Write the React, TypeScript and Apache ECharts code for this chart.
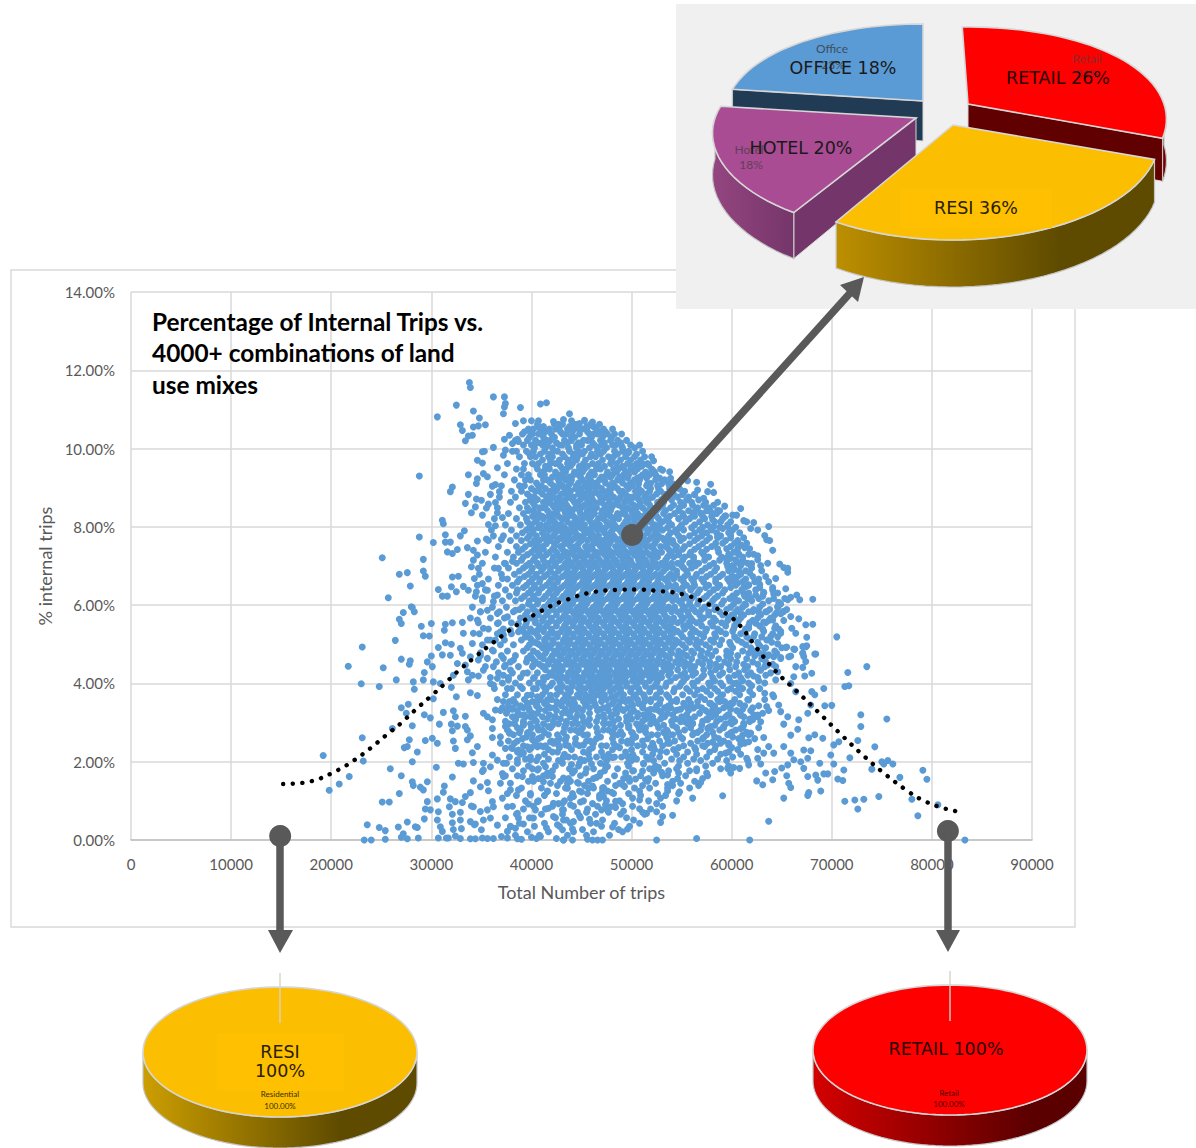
import React, { useEffect, useRef } from "react";
import * as echarts from "echarts";

// Axis ticks
const tripTicks = { min: 0, max: 90000, step: 10000 };
const shareTicks = { min: 0, max: 14, step: 2 };

// Land use mixes: scattered points as pairs of (trips / 100, share x 100)
const sparsePoints = [
338,1169,339,1156,362,1132,373,1132,374,1115,373,1106,372,1089,325,1111,342,1096,306,1081,389,1105,409,1114,415,1117,348,1078,354,1061,329,1061,331,1046,342,1055,347,1058,337,1032,341,1034,334,1020,384,1064,392,1071,400,1071,407,1071,407,1055,399,1042,412,1043,422,1069,427,1062,432,1074,438,1089,440,1071,448,1064,453,1072,461,1068,456,1055,442,1050,466,1037,472,1038,373,1024,378,1034,386,1024,381,1013,387,1018,362,1003,353,993,351,992,385,993,372,983,374,996,
346,970,351,963,366,951,337,933,352,936,356,928,346,923,345,911,288,930,321,902,319,890,364,908,361,904,368,890,359,883,337,883,345,871,350,868,334,860,364,862,357,858,355,848,344,851,340,836,351,830,366,836,371,824,311,817,312,808,357,806,364,803,333,790,329,777,314,780,288,774,302,760,314,761,319,761,346,764,355,769,362,777,370,768,316,736,321,732,326,742,336,747,342,740,346,728,342,715,251,721,292,717,268,679,276,683,292,687,294,674,340,698,347,694,321,672,327,674,279,649,307,640,320,647,332,648,325,634,337,638,343,668,351,655,345,634,356,638,257,619,311,623,316,623,280,596,367,694,374,706,381,712,371,668,366,626,351,619,362,609,
281,594,283,583,272,581,268,564,270,553,290,546,300,553,314,551,313,536,321,555,331,556,292,522,298,521,264,510,231,493,314,504,307,492,320,500,300,470,311,473,319,472,270,462,279,458,278,449,296,455,301,443,217,444,252,440,293,428,265,409,230,399,248,392,282,404,292,409,302,404,309,400,283,385,320,390,325,366,339,376,346,369,302,361,277,347,270,338,275,324,312,326,322,330,293,320,299,312,334,316,324,315,281,292,261,285,308,296,320,296,334,290,326,291,321,279,336,281,231,261,278,256,301,260,294,254,306,247,339,266,322,253,336,256,276,239,273,236,324,234,286,225,346,239,341,223,192,216,232,202,281,200,259,182,305,186,327,196,332,194,342,198,270,164,218,162,321,161,208,143,198,127,281,149,282,139,289,135,292,128,296,149,313,138,312,122,268,119,251,97,258,97,306,105,296,98,294,79,307,72,299,77,319,105,331,96,324,98,318,85,340,87,329,71,321,66,293,54,306,51,276,46,236,39,248,32,254,24,267,33,284,34,286,32,309,34,311,22,321,44,329,51,322,27,330,29,339,47,344,41,352,51,
233,0,240,0,254,2,270,7,272,16,276,3,287,5,307,5,315,5,317,5,324,10,329,4,339,3,344,3,351,5,356,4,362,4,370,9,376,5,386,3,390,2,400,7,405,4,409,9,415,31,425,4,432,0,
342,151,356,147,349,136,339,121,357,126,371,107,334,111,342,85,349,73,356,77,361,98,362,85,376,85,386,68,387,56,399,115,397,92,406,98,404,77,402,56,416,124,422,94,417,81,431,94,431,77,422,60,432,51,426,39,431,26,359,56,366,38,379,34,384,30,392,41,376,22,343,39,350,26,
352,324,356,315,364,332,361,307,361,285,374,290,381,336,386,319,384,307,376,330,378,273,388,274,396,273,361,262,369,264,369,247,374,234,381,234,387,230,392,222,396,238,401,256,406,238,386,205,372,196,361,217,366,204,352,196,351,175,359,187,371,170,372,162,352,179,391,162,401,162,406,179,387,128,379,128,369,145,412,149,421,162,432,158,436,132,399,205,414,187,406,290,417,290,424,315,434,294,434,255,432,213,412,238,419,251,427,243,392,298,399,315,396,349,406,341,416,358,426,349,432,358,
362,443,366,413,374,447,379,434,372,421,377,409,359,400,376,387,362,396,352,434,347,419,337,409,341,421,356,464,361,485,356,511,364,511,372,524,379,536,387,553,387,532,392,532,406,536,399,515,414,515,422,528,406,502,416,494,426,485,429,468,421,460,409,468,396,464,382,460,372,464,402,447,412,443,426,443,416,417,402,413,392,426,389,392,402,387,412,392,426,387,419,370,406,366,396,370,349,583,346,562,356,587,366,579,376,570,384,587,366,553,369,532,352,541,342,528,332,528,341,502,329,490,331,477,339,468,349,478,334,447,326,451,347,460,336,430,322,421,
833,0,806,90,786,62,780,104,747,111,732,104,723,102,713,99,726,79,795,155,791,178,768,160,761,194,756,203,750,200,752,194,740,181,743,238,718,210,726,254,729,290,729,320,755,309,735,443,716,428,713,392,717,394,692,387,700,344,693,343,702,243,707,251,699,217,702,194,712,179,706,156,711,152,696,169,692,169,688,196,689,125,677,121,676,114,652,107,637,48,618,0,591,113,569,147,565,177,565,4,548,123,541,63,531,60,529,45,525,72,515,68,508,102,508,80,496,28,481,33,525,0,471,0,466,0,461,0,456,2,441,0,432,0,441,28,442,47,448,62,455,71,458,53,465,43,470,77,492,74,484,83,479,85,474,90,449,97,439,90,432,77,480,122,471,124,472,111,484,99,442,111,450,123,457,132,461,138,472,134,491,141,493,137,536,166,536,142,514,154,504,156,497,158,502,177,511,176,522,183,527,186,530,173,512,194,517,207,502,213,496,213,481,211,476,188,472,213,460,194,440,193,432,211,465,160,454,171,449,206,446,147,436,145,596,183,602,185,608,183,594,222,609,245,617,251,572,262,573,239,581,250,589,247,597,243,615,209,617,192,626,209,629,194,634,171,625,151,631,141,641,154,643,175,655,164,657,145,659,134,650,184,656,192,662,205,669,200,676,209,672,183,676,162,684,166,686,153,632,262,637,239,632,222,642,222,652,239,659,222,672,230,679,228,659,268,677,261,683,269,691,260,652,296,666,283,667,307,676,324,679,345,656,315,649,328,635,341,626,319,629,302,621,307,612,298,609,285,619,273,611,268,599,302,599,273,592,290,579,290,576,285,562,273,561,298,549,302,609,319,
683,371,680,379,664,379,659,400,644,409,642,366,647,345,633,375,617,358,609,388,622,419,619,396,664,443,671,441,680,426,673,419,662,417,683,475,674,456,671,477,674,494,663,487,654,492,646,501,657,468,649,464,642,468,632,473,628,496,622,481,636,447,646,430,629,434,602,400,596,383,579,400,566,383,569,366,589,366,579,349,599,349,596,319,582,328,576,307,556,337,546,332,562,337,536,341,529,328,519,311,509,294,501,273,496,247,486,239,536,277,536,247,522,239,529,226,462,247,452,243,444,245,434,243,449,281,456,298,472,298,481,273,489,277,504,264,507,290,
490,1007,495,990,497,990,520,979,522,969,492,951,502,948,512,960,517,958,531,945,538,941,539,924,537,910,524,933,521,945,509,928,519,911,565,914,579,909,556,918,566,894,576,890,582,888,563,882,572,873,586,863,593,853,609,847,601,830,605,830,586,842,579,839,569,835,561,835,594,828,612,816,615,813,622,811,637,801,619,796,626,792,633,778,635,767,638,765,641,740,626,726,613,747,607,731,636,707,648,705,652,696,656,694,656,684,620,706,612,710,606,709,618,682,644,668,628,653,654,642,632,633,642,629,681,615,668,614,665,626,659,620,656,614,647,607,646,596,652,584,649,578,645,581,634,583,627,582,621,584,659,571,667,565,641,562,674,550,681,551,660,541,664,528,675,518,705,519,655,493,662,488,671,494,675,496,684,475,659,470,671,477,672,469,632,557,624,554,617,541,622,520,633,489,643,541,649,528,639,520,649,466,637,473,
596,801,599,779,581,818,591,796,582,801,571,784,586,775,609,754,599,720,594,720,596,699,602,690,609,682,601,673,606,656,614,647,617,652,624,626,619,618,612,630,614,601,609,579,602,571,
];

// Dense body of the cloud: share of internal trips (%) and the trips / 100 of the mixes at that share
const denseRows: [number, number[]][] = [
[10.62,[406,423,431,443,446,459,468]],
[10.5,[397,402,418,424,436,447,451,465,472,481]],
[10.37,[391,401,407,420,431,435,448,458,462,476,483,490]],
[10.21,[384,396,404,415,419,433,440,452,456,469,479,486,495]],
[10.09,[392,400,411,416,428,431,445,450,463,470,481,484,499,508]],
[9.93,[381,395,402,413,422,426,438,447,453,466,472,483,491,497,511]],
[9.79,[388,399,404,417,421,433,442,446,459,464,477,482,494,503,513]],
[9.62,[376,393,401,407,419,424,436,441,452,461,467,479,485,496,505,516]],
[9.48,[385,392,406,414,418,431,435,448,453,465,469,482,487,499,506,520,529]],
[9.33,[373,390,397,409,413,425,429,442,447,458,463,475,481,492,497,511,518]],
[9.2,[383,394,399,412,416,427,434,440,451,459,468,473,486,490,503,508,524,533]],
[9.05,[370,388,393,407,410,422,431,437,445,453,461,466,478,483,495,501,515,526,538]],
[8.91,[380,390,404,408,419,424,435,439,449,456,464,472,476,488,491,504,510,518,529,541,553]],
[8.76,[368,384,399,403,415,422,428,438,442,453,458,469,474,482,489,498,502,513,521,533,546,557]],
[8.63,[379,394,401,412,416,426,431,443,446,456,463,468,478,485,493,499,509,515,526,532,549,560,574]],
[8.49,[366,388,396,408,411,423,428,437,444,450,460,465,475,480,491,496,505,511,520,528,539,548,566,577]],
[8.34,[377,392,403,407,419,424,434,438,449,455,463,470,476,486,490,501,506,516,521,532,543,551,570,585]],
[8.21,[363,385,395,406,412,421,430,433,445,451,457,467,472,482,487,497,503,509,519,527,535,547,558,573,591]],
[8.05,[374,389,400,409,415,426,430,440,447,453,462,468,478,483,492,499,507,512,523,528,540,550,563,576,596]],
[7.92,[360,380,395,402,413,418,428,436,441,452,456,466,471,481,488,494,504,509,518,526,531,544,552,568,580,601]],
[7.77,[372,385,398,405,416,422,433,437,447,452,462,467,477,482,492,497,507,512,522,527,537,547,558,570,589]],
[7.65,[357,379,390,403,408,419,426,435,440,450,456,465,471,480,486,495,501,510,516,525,533,541,549,563,575,594,606]],
[7.5,[367,385,394,406,411,423,429,439,444,454,459,469,474,484,489,499,504,514,519,529,534,545,553,567,580,599]],
[7.35,[354,376,387,400,407,418,425,435,440,450,455,465,470,480,485,495,500,510,515,525,530,540,547,559,570,587,602]],
[7.23,[364,382,392,404,411,422,431,436,446,451,461,466,476,481,491,496,506,511,521,526,536,542,553,562,577,590,611]],
[7.07,[351,373,385,398,406,417,424,434,439,449,455,464,470,479,485,494,500,509,515,524,530,540,546,558,567,582,595,616]],
[6.95,[363,377,392,401,412,419,430,436,445,451,460,466,475,481,490,496,505,511,520,526,535,541,552,560,574,585,602,620]],
[6.79,[348,370,383,397,405,416,423,434,439,449,454,464,469,479,484,494,499,509,514,524,529,539,545,556,565,579,591,609]],
[6.67,[357,376,388,401,409,420,427,437,443,452,458,467,473,482,488,497,503,512,518,527,533,542,549,560,570,584,596,614,627]],
[6.51,[346,367,381,395,403,415,422,433,439,448,454,463,469,478,484,493,499,508,514,523,529,538,544,555,563,577,588,604,617]],
[6.39,[354,374,386,400,408,419,427,437,442,452,457,467,472,482,487,497,502,512,517,527,532,542,548,559,568,582,593,610,624,641]],
[6.23,[344,363,378,393,402,414,422,432,438,448,453,463,468,478,483,493,498,508,513,523,528,538,544,554,562,575,586,601,613,631]],
[6.11,[351,371,384,398,407,419,426,436,442,451,457,466,472,481,487,496,502,511,517,526,532,541,547,558,567,581,592,607,620,637]],
[5.95,[341,361,375,391,401,413,421,432,438,447,453,462,468,477,483,492,498,507,513,522,528,537,543,553,560,573,584,599,611,628,646]],
[5.83,[349,368,382,396,405,417,425,435,441,450,456,465,471,480,486,495,501,510,516,525,531,540,546,556,564,577,588,604,617,635,651]],
[5.67,[339,359,373,389,399,412,420,431,437,446,452,461,467,476,482,491,497,506,512,521,527,536,542,552,559,572,582,597,609,626,639]],
[5.55,[347,367,380,395,404,417,425,435,441,450,456,465,471,480,486,495,501,510,516,525,531,540,546,557,565,579,590,605,618,634]],
[5.39,[357,372,389,399,412,420,431,437,446,452,461,467,476,482,491,497,506,512,521,527,536,542,553,561,575,586,602,614,631,647]],
[5.27,[348,366,380,396,405,418,426,436,442,451,457,466,472,481,487,496,502,511,517,526,532,541,549,559,568,583,594,609,623,641]],
[5.11,[359,373,390,400,413,421,432,438,447,453,462,468,477,483,492,498,507,513,522,528,537,544,556,565,579,590,606,619,635]],
[4.99,[351,369,382,398,408,420,427,437,443,452,458,467,473,482,488,497,503,512,518,527,533,543,551,564,574,588,599,614,627]],
[4.83,[362,376,392,402,415,423,433,439,448,454,463,469,478,484,493,499,508,514,523,529,539,547,560,570,584,595,611,623,643]],
[4.71,[349,370,384,399,408,421,428,438,444,453,459,468,474,483,489,498,504,513,519,528,534,546,555,569,580,595,606,623,636]],
[4.55,[365,379,395,404,417,425,435,441,450,456,465,471,480,486,495,501,510,516,525,532,544,553,567,578,593,605,621,634]],
[4.43,[354,373,387,401,411,423,430,440,446,455,461,470,476,485,491,500,506,515,521,532,540,553,563,578,589,604,616,633,644]],
[4.27,[367,381,396,406,419,427,437,443,453,458,468,473,483,488,498,503,513,519,530,539,553,564,579,591,607,619,639]],
[4.15,[359,377,389,403,412,425,432,442,448,458,463,473,478,488,494,504,510,521,530,544,555,570,581,597,609,626]],
[4.01,[371,384,398,407,421,429,440,447,457,463,473,479,489,495,506,513,525,535,550,561,577,589,605,617,633]],
[3.87,[363,380,391,405,415,428,436,447,454,465,472,483,489,500,507,519,528,543,555,571,583,599,611,628]],
[3.71,[374,386,400,411,425,434,446,454,465,473,485,492,504,512,525,535,551,563,579,591,608,621,641]],
[3.59,[366,382,393,409,420,433,442,454,462,475,484,497,506,519,529,545,557,573,586,603,616,633]],
[3.43,[377,389,405,416,430,440,454,464,477,487,501,511,525,537,553,566,583,596,613,627]],
[3.31,[369,386,398,414,425,440,451,466,477,492,502,516,527,544,557,574,587,605,619,637]],
[3.15,[381,394,411,423,439,451,467,479,495,506,521,533,550,563,580,594,612,626]],
[3.03,[374,392,405,422,435,452,465,482,495,511,523,540,553,571,585,603,618]],
[2.87,[386,400,419,433,451,465,483,497,514,527,545,559,577,592,611,627]],
[2.75,[378,397,413,432,447,466,481,500,514,532,547,566,581,600,615]],
[2.59,[391,407,428,444,465,481,501,516,536,551,571,587,607,623]],
[2.47,[383,404,422,444,461,482,500,521,538,559,576,597,613]],
[2.31,[398,417,440,458,481,500,523,542,564,583,606,626]],
[2.19,[389,413,433,457,477,501,521,545,565,589,609]],
[2.03,[405,427,453,475,500,522,548,569,595,616]],
[1.89,[397,424,447,474,497,524,547,574,597]],
[1.71,[416,441,469,494,522,547,575,599]],
[1.57,[407,437,462,492,517,546,571]],
[1.39,[426,453,484,511,541,567]],
[1.25,[416,448,476,508,536]],
[1.07,[439,468,501,529,561]],
[0.93,[427,461,491,525]],
[0.71,[446,477,511]],
[0.51,[435,471,502]],
[0.27,[451,487]],
];

// Second pass over the solid core, mixes lying between the rows above
const coreRows: [number, number[]][] = [
[9.27,[421,432,438,449,457,470,479,488]],
[9.12,[405,419,428,439,447,456,464,474,481,491,499]],
[8.98,[400,414,426,433,444,450,458,470,480,486,497,507,519]],
[8.84,[396,411,418,430,435,447,452,461,467,479,494,507,515,525]],
[8.7,[399,406,419,425,434,441,449,461,471,478,487,495,507,517,530]],
[8.56,[403,414,421,430,435,447,453,458,473,482,487,502,508,518,531,542]],
[8.42,[397,402,416,426,433,441,448,456,461,471,479,494,500,514,525,534,547]],
[8.27,[401,411,417,427,437,442,454,460,473,479,485,495,511,517,525,538,552]],
[8.13,[396,404,418,423,436,443,449,459,465,475,481,494,503,515,519,531,537,554]],
[7.98,[398,407,421,425,433,444,449,460,465,474,485,490,501,514,521,536,548,560]],
[7.85,[391,401,411,424,431,439,444,457,460,473,479,490,496,505,516,524,539,545,563]],
[7.71,[396,412,416,428,430,443,448,459,464,475,484,490,503,505,519,531,536,552,566]],
[7.57,[399,404,415,423,433,437,447,462,467,473,478,491,494,508,511,523,536,542,558,571]],
[7.43,[391,403,412,421,431,445,447,458,461,475,477,490,492,505,508,522,537,544,551,563,575]],
[7.29,[396,408,415,426,432,442,448,456,463,473,478,488,493,503,508,518,523,538,547,558,572]],
[7.15,[390,402,412,421,428,437,444,453,460,468,475,484,491,499,507,514,521,534,551,562,573,588]],
[7.01,[395,407,413,424,433,441,447,457,462,472,477,487,492,502,507,517,522,532,537,550,564,578]],
[6.87,[388,400,410,419,427,436,443,452,458,467,473,482,488,497,503,512,518,532,545,555,570,583]],
[6.73,[393,404,413,424,431,442,446,456,461,471,476,486,491,501,506,516,521,537,543,553,564,575,588]],
[6.59,[386,398,408,418,426,436,442,451,457,466,472,481,487,496,502,511,517,526,536,552,562,572,584,598]],
[6.45,[392,403,411,423,430,441,445,456,460,470,475,485,490,500,505,515,520,530,535,551,561,574,586]],
[6.31,[385,397,407,417,425,435,441,451,456,465,471,480,486,495,501,510,516,525,534,551,566,578,591]],
[6.17,[390,403,412,422,430,440,446,455,461,470,476,485,491,500,506,515,521,530,535,552,560,572,583,598]],
[6.03,[397,406,417,425,434,441,450,455,465,470,480,485,495,500,510,515,525,531,550,558,566,578,590]],
[5.89,[388,402,411,421,429,438,445,454,460,469,475,484,490,499,505,514,520,529,534,551,562,570,583,595]],
[5.75,[394,407,415,425,433,443,448,458,463,473,478,488,493,503,508,518,523,533,549,557,568,577,591]],
[5.61,[404,411,420,428,439,444,453,459,468,474,483,489,498,504,513,519,528,534,550,561,569,584,596]],
[5.47,[394,408,415,425,433,442,449,458,464,473,479,488,494,503,509,518,524,533,538,552,558,570,581,594]],
[5.33,[401,412,420,430,437,447,453,463,468,478,483,493,498,508,513,523,528,538,546,564,574,589]],
[5.19,[394,407,416,426,434,442,449,458,464,473,479,488,494,503,509,518,524,533,539,551,560,572,584]],
[5.05,[403,414,422,432,438,447,454,463,469,478,484,493,499,508,514,523,529,538,547,558,569,582]],
[4.91,[396,411,418,429,435,444,450,459,465,474,480,489,495,504,510,519,525,534,541,554,566,578]],
[4.77,[406,414,425,432,441,447,456,462,471,477,486,492,501,507,516,522,531,540,551,562,576]],
[4.63,[401,412,419,430,436,445,451,460,466,475,481,490,496,505,511,520,527,538,549,560,573]],
[4.49,[408,417,427,435,443,450,459,465,474,480,489,495,504,510,519,526,537,547,558,571]],
[4.35,[414,423,431,440,447,456,463,471,478,486,493,501,508,516,524,535,546,559,572]],
[4.21,[421,429,437,445,453,461,468,477,484,493,500,509,516,525,537,549,561]],
[4.07,[428,436,444,452,460,468,476,484,492,501,509,518,526,539,552]],
[3.93,[431,441,449,459,468,477,486,495,504,514,523,534,548]],
[3.79,[439,449,460,469,479,489,499,508,518,529,542]],
[3.65,[437,448,459,470,480,491,502,513,524,537]],
];

// Top of the cloud and its right flank, clumped mixes around the core
const haloRows: [number, number[]][] = [
[10.56,[412,428,438,455,462]],
[10.43,[393,409,414,429,441,456,469,474]],
[10.29,[398,412,423,440,443,460,471,480]],
[10.15,[406,410,425,436,447,461,473,489]],
[10.02,[403,414,421,437,445,458,466,475,491,503]],
[9.86,[398,409,418,431,442,451,460,469,486,495,505]],
[9.71,[411,419,428,437,445,454,471,480,489,499,509]],
[9.55,[405,414,429,439,448,456,465,473,491,501,510]],
[9.4,[411,424,434,443,451,460,476,485,494,503,514,523]],
[9.25,[496,506,515,528]],
[9.1,[507,516,530,541]],
[8.97,[527,538,548]],
[8.83,[533,542,551,563]],
[8.69,[540,555,567]],
[8.55,[552,561,572,582]],
[8.41,[557,564,575,588]],
[8.27,[563,571,580,593]],
[8.13,[568,583,589,599]],
[7.99,[571,579,588,604]],
[7.85,[575,585,597,608]],
[7.72,[578,586,599,612]],
[7.58,[584,591,603,615]],
[7.44,[586,595,606,618]],
[7.3,[597,607,617,622]],
[7.16,[596,604,611,626]],
[7.01,[601,609,619,629]],
[6.88,[597,607,614,630]],
[6.73,[600,606,621,634]],
[6.6,[603,611,623,637]],
[6.45,[599,612,628,641]],
[6.31,[605,617,632,646]],
[6.17,[603,616,627,642,653]],
[6.03,[602,613,631,649]],
[5.89,[606,622,638,655]],
[5.75,[600,612,629,643]],
[5.61,[607,621,637,652]],
[5.47,[603,617,628,644]],
[5.33,[601,613,632,649]],
[5.19,[603,615,630,646]],
[5.05,[598,610,626,640]],
[4.91,[601,619,634,650]],
[4.77,[599,617,628,645]],
[4.63,[587,599,615,630]],
[4.49,[584,597,612,626,641]],
[4.35,[584,598,613,628]],
[4.21,[572,588,603,616,634]],
[4.07,[412,566,583,598,611,627]],
[3.94,[419,562,578,591,607,620]],
[3.8,[414,429,558,575,586,604,618]],
];

// Lower part of the cloud, loose clusters running down to the axis
const lowerRows: [number, number[]][] = [
[3.54,[372,378,401,406,425,431,452,457,470,489,494,513,519,540,545,566,588,593]],
[3.49,[384,396,413,437,443,463,481,500,507,528,552,559,578,601,608]],
[3.38,[371,392,397,419,423,447,458,472,496,511,533,539,561,570,592,621]],
[3.34,[381,408,434,445,469,484,490,519,523,549,581,599,611]],
[3.24,[375,401,406,431,436,458,485,499,506,530,536,568,577,608,631]],
[3.2,[389,393,418,446,472,481,512,518,541,555,584,597,622]],
[3.09,[384,403,416,429,444,458,473,487,500,514,529,544,558,575,589,601,618]],
[2.97,[378,383,399,412,427,441,446,473,478,505,519,525,556,561,594,600]],
[2.93,[392,421,434,458,489,497,532,541,570,583,612]],
[2.81,[376,389,407,411,439,444,472,477,508,513,535,553,569,588,604]],
[2.69,[382,401,417,426,452,456,486,491,520,526,541,561,575,596,617]],
[2.63,[395,410,435,469,504,535,549,583,601]],
[2.53,[377,386,420,425,455,459,490,496,511,528,543,566,592,611]],
[2.41,[392,409,414,437,448,470,475,506,512,531,552,571,584]],
[2.36,[380,400,428,461,488,519,547,563,600]],
[2.25,[386,391,421,426,452,470,494,511,535,556,578,597]],
[2.12,[378,399,407,437,443,465,483,490,515,528,552,575,601]],
[2.07,[394,417,458,476,505,540,562,586]],
[1.96,[375,386,412,431,448,469,496,512,533,556,581]],
[1.82,[381,401,407,438,455,462,486,518,526,545,565,589]],
[1.77,[392,421,443,473,501,537,558]],
[1.64,[374,386,412,416,449,468,483,509,531,554,576]],
[1.5,[397,402,429,439,457,476,498,516,541,563]],
[1.45,[379,419,447,488,524,549]],
[1.33,[390,410,434,462,471,503,518,536,558]],
[1.19,[376,399,425,441,456,482,497,526,547]],
[1.14,[385,413,468,509,534]],
[1.0,[394,407,433,452,475,488,517,545]],
[0.86,[381,402,421,442,466,483,501,531]],
[0.79,[392,414,456,475,519]],
[0.66,[385,410,431,464,489,513]],
[0.57,[374,398,424,449,495]],
[0.43,[388,413,439,459,483,508]],
[0.35,[379,403,428,470,498]],
[0.21,[396,417,442,462,491]],
[0.12,[384,408,436,455,478]],
];

// Polynomial trendline through the cloud
const trendTrips = [15200,18000,20700,22300,23900,25400,26900,28300,29800,31200,32600,34100,35600,37200,38700,40400,42100,43000,45700,48600,50500,52300,55100,57600,60000,61500,62300,64400,66500,68600,70700,72800,75000,77300,78900,80700,82500];
const trendShare = [1.43,1.5,1.79,2.04,2.34,2.66,2.97,3.3,3.64,3.96,4.3,4.62,4.93,5.24,5.52,5.77,6.0,6.09,6.31,6.39,6.4,6.37,6.28,6.03,5.68,5.27,4.97,4.31,3.8,3.28,2.75,2.24,1.75,1.3,1.04,0.85,0.73];

// The three mixes called out by the arrows
const calloutTrips = [50050, 14900, 81600];
const calloutShare = [7.79, 0.1, 0.23];

// Land use shares (%) of each called-out mix
const balancedNames = ["Retail", "Residential", "Hotel", "Office"];
const balancedShares = [31, 28, 18, 23];
const residentialOnly = [100];
const retailOnly = [100];

const titleLines = ["Percentage of Internal Trips vs.", "4000+ combinations of land", "use mixes"];

const scatterData: number[][] = [];
for (let i = 0; i + 1 < sparsePoints.length; i += 2) {
  scatterData.push([sparsePoints[i] * 100, sparsePoints[i + 1] / 100]);
}
[...denseRows, ...coreRows, ...haloRows, ...lowerRows].forEach(([share, trips]) =>
  trips.forEach((t) => scatterData.push([t * 100, share]))
);

type Lens = { rx: number; c: number; a: number; b: number };

// Maps a pie angle (clockwise from twelve o'clock) onto the tilted disc
function project(cx: number, cy: number, l: Lens, deg: number, drop = 0): number[] {
  const t = (deg * Math.PI) / 180;
  const u = Math.sin(t);
  const v = -Math.cos(t);
  return [cx + l.rx * u * (1 + l.c * v), cy + v * (l.a + l.b * v) + drop];
}

function arcPoints(cx: number, cy: number, l: Lens, from: number, to: number, drop: (deg: number) => number) {
  const pts: number[][] = [];
  const steps = Math.max(2, Math.ceil(Math.abs(to - from) / 3));
  for (let i = 0; i <= steps; i++) {
    const d = from + ((to - from) * i) / steps;
    pts.push(project(cx, cy, l, d, drop(d)));
  }
  return pts;
}

const hGrad = (stops: [number, string][]) =>
  new echarts.graphic.LinearGradient(0, 0, 1, 0, stops.map(([offset, color]) => ({ offset, color })));

const edge = "#d6d6d6";

type SliceLook = {
  tip: number[];
  rx: number;
  tilt: number;
  face: string;
  rim: any;
  side?: string;
  sideAt?: "start" | "end";
  rimFrom: number;
  rimTo: number;
};

const balancedLook: SliceLook[] = [
  { tip: [968, 104], rx: 196, tilt: -2, face: "#ff0000", rim: "#760000", side: "#610000", sideAt: "end", rimFrom: 90, rimTo: 112 },
  { tip: [953, 125], rx: 203, tilt: -2, face: "#fcbe00", rim: hGrad([[0, "#bd8f00"], [0.7, "#5f4b00"], [1, "#5f4b00"]]), rimFrom: 100, rimTo: 212.4 },
  { tip: [916, 118], rx: 201, tilt: 0, face: "#a94c93", rim: hGrad([[0, "#94457f"], [1, "#75366a"]]), side: "#73356a", sideAt: "start", rimFrom: 212.4, rimTo: 270 },
  { tip: [923, 101], rx: 196, tilt: 0, face: "#5b9bd5", rim: "#203b53", side: "#203b53", sideAt: "start", rimFrom: 270, rimTo: 277.2 },
];

// Painted back to front so the nearer slices overlap the farther ones
const balancedPaintOrder = [3, 0, 2, 1];

function renderBalancedSlice(params: any) {
  const index = balancedPaintOrder[params.dataIndex];
  const share = balancedShares[index];
  const start = balancedShares.slice(0, index).reduce((s, v) => s + v, 0) * 3.6;
  const look = balancedLook[index];
  const from = start + look.tilt;
  const to = start + share * 3.6 + look.tilt;
  const lens: Lens = { rx: look.rx, c: 0.16, a: 96, b: 19 };
  const [cx, cy] = look.tip;
  const depth = (deg: number) => 41 - 6 * Math.cos((deg * Math.PI) / 180);
  const children: any[] = [];
  const outer = arcPoints(cx, cy, lens, from, to, () => 0);
  if (look.side) {
    const e = look.sideAt === "end" ? to : from;
    const p = project(cx, cy, lens, e);
    children.push({
      type: "polygon",
      shape: { points: [[cx, cy], p, [p[0], p[1] + depth(e)], [cx, cy + 40]] },
      style: { fill: look.side, stroke: edge, lineWidth: 1 },
    });
  }
  const rimTop = arcPoints(cx, cy, lens, Math.max(from, look.rimFrom), Math.min(to, look.rimTo), () => 0);
  const rimBottom = arcPoints(cx, cy, lens, Math.max(from, look.rimFrom), Math.min(to, look.rimTo), depth);
  children.push({
    type: "polygon",
    shape: { points: rimTop.concat(rimBottom.reverse()) },
    style: { fill: look.rim, stroke: "#c4c4c4", lineWidth: 1.2 },
  });
  children.push({
    type: "polygon",
    shape: { points: [[cx, cy], ...outer] },
    style: { fill: look.face, stroke: edge, lineWidth: 1.6 },
  });
  return { type: "group", children };
}

function singleUsePie(cx: number, cy: number, rx: number, ry: number, depth: number, face: string, rim: any) {
  return (_params: any, api: any) => {
    const sweep = api.value(0) * 3.6;
    const lens: Lens = { rx, c: 0, a: ry, b: 0 };
    const top = arcPoints(cx, cy, lens, 90, 270, () => 0);
    const bottom = arcPoints(cx, cy, lens, 90, 270, () => depth);
    return {
      type: "group",
      children: [
        {
          type: "polygon",
          shape: { points: top.concat(bottom.reverse()) },
          style: { fill: rim, stroke: "#c4c4c4", lineWidth: 1.2 },
        },
        {
          type: "polygon",
          shape: { points: arcPoints(cx, cy, lens, 0, sweep, () => 0) },
          style: { fill: face, stroke: edge, lineWidth: 1.6 },
        },
        {
          type: "line",
          shape: { x1: cx, y1: cy - ry - 14, x2: cx, y2: cy - 29 },
          style: { stroke: "#d9d3c4", lineWidth: 1.4 },
        },
      ],
    };
  };
}

const label = (text: string, x: number, y: number, fontSize: number, fill: string, z = 30, fontWeight = "normal", align = "center", fontFamily = "Lato") => ({
  type: "text",
  z,
  silent: true,
  style: { text, x, y, fontSize, fontWeight, fill, align, verticalAlign: "middle", fontFamily },
});

const arrowColor = "#595959";
const pieFont = "DejaVu Sans";

function buildOption() {
  const graphic: any[] = [
    { type: "rect", z: 0, silent: true, shape: { x: 11, y: 270, width: 1064, height: 657 }, style: { fill: "none", stroke: "#d9d9d9", lineWidth: 1.4 } },
    { type: "rect", z: 7, silent: true, shape: { x: 676, y: 4, width: 520, height: 305 }, style: { fill: "#f0f0f0" } },
    { type: "line", z: 8, silent: true, shape: { x1: 632, y1: 535, x2: 851, y2: 292 }, style: { stroke: arrowColor, lineWidth: 7.5 } },
    { type: "polygon", z: 8, silent: true, shape: { points: [[864, 277], [840, 285], [858, 302]] }, style: { fill: arrowColor } },
    { type: "line", z: 6, silent: true, shape: { x1: 280, y1: 836, x2: 280, y2: 932 }, style: { stroke: arrowColor, lineWidth: 7.5 } },
    { type: "polygon", z: 6, silent: true, shape: { points: [[268, 930], [293, 930], [280, 953]] }, style: { fill: arrowColor } },
    { type: "line", z: 6, silent: true, shape: { x1: 948, y1: 831, x2: 948, y2: 932 }, style: { stroke: arrowColor, lineWidth: 7.5 } },
    { type: "polygon", z: 6, silent: true, shape: { points: [[936, 930], [960, 930], [948, 952]] }, style: { fill: arrowColor } },
    { type: "rect", z: 25, silent: true, shape: { x: 900, y: 189, width: 152, height: 39 }, style: { fill: "#fec000" } },
    label("Residential", 280, 1094, 8, "#3a3000", 24),
    { type: "rect", z: 25, silent: true, shape: { x: 217, y: 1033, width: 127, height: 58 }, style: { fill: "#fec000" } },
    label(balancedNames[3], 832, 48, 12, "#3d4f60"),
    label(`${balancedShares[3]}%`, 833, 64, 12, "#3d4f60"),
    label(balancedNames[0], 1087, 58, 12, "#8c2b2b"),
    label(`${balancedShares[0]}%`, 1087, 73, 12, "#8c2b2b"),
    label(balancedNames[2], 749, 149, 12, "#5f4058"),
    label(`${balancedShares[2]}%`, 751, 164, 12, "#5f4058"),
    label("OFFICE 18%", 843, 68, 17.5, "#1a1a1a", 31, "normal", "center", pieFont),
    label("RETAIL 26%", 1058, 78, 17.5, "#2a0000", 31, "normal", "center", pieFont),
    label("HOTEL 20%", 801, 148, 17.5, "#1a1a1a", 31, "normal", "center", pieFont),
    label("RESI 36%", 976, 208, 17.5, "#2a2000", 31, "normal", "center", pieFont),
    label("RESI", 280, 1052, 17.5, "#2a2000", 31, "normal", "center", pieFont),
    label("100%", 280, 1071, 17.5, "#2a2000", 31, "normal", "center", pieFont),
    label("100.00%", 280, 1106, 8, "#3a3000"),
    label("RETAIL 100%", 946, 1049, 17.5, "#2a0000", 31, "normal", "center", pieFont),
    label("Retail", 949, 1093, 8, "#4a0000"),
    label("100.00%", 949, 1104, 8, "#4a0000"),
    ...titleLines.map((t, i) => label(t, 152, 321.5 + i * 31.3, 24.4, "#000000", 31, "bold", "left")),
  ];

  const axisText = { color: "#595959", fontSize: 15, fontFamily: "Lato" };

  return {
    animation: false,
    backgroundColor: "#ffffff",
    grid: { left: 131, right: 164, top: 292, bottom: 308 },
    xAxis: {
      type: "value",
      min: tripTicks.min,
      max: tripTicks.max,
      interval: tripTicks.step,
      name: "Total Number of trips",
      nameLocation: "middle",
      nameGap: 43,
      nameTextStyle: { color: "#595959", fontSize: 18, fontFamily: "Lato" },
      axisLine: { show: true, lineStyle: { color: "#bfbfbf", width: 1.5 } },
      axisTick: { show: false },
      axisLabel: { ...axisText, margin: 16, formatter: (v: number) => String(v) },
      splitLine: { show: true, lineStyle: { color: "#d9d9d9", width: 1.5 } },
    },
    yAxis: {
      type: "value",
      min: shareTicks.min,
      max: shareTicks.max,
      interval: shareTicks.step,
      name: "% internal trips",
      nameLocation: "middle",
      nameGap: 75,
      nameTextStyle: { color: "#595959", fontSize: 18, fontFamily: "Lato" },
      axisLine: { show: false },
      axisTick: { show: false },
      axisLabel: { ...axisText, margin: 16, formatter: (v: number) => `${v.toFixed(2)}%` },
      splitLine: { show: true, lineStyle: { color: "#d9d9d9", width: 1.5 } },
    },
    series: [
      {
        type: "scatter",
        name: "Land use mixes",
        data: scatterData,
        symbolSize: 7,
        itemStyle: { color: "#5b9bd5", opacity: 1 },
        large: false,
        progressive: 0,
        progressiveThreshold: 1000000,
        silent: true,
        z: 2,
      },
      {
        type: "line",
        name: "Trend",
        data: trendTrips.map((t, i) => [t, trendShare[i]]),
        smooth: 0.4,
        showSymbol: false,
        silent: true,
        lineStyle: { color: "#000000", width: 4.4, type: [0.1, 9.5], cap: "round" },
        z: 3,
      },
      {
        type: "scatter",
        name: "Called-out mixes",
        data: calloutTrips.map((t, i) => [t, calloutShare[i]]),
        symbolSize: 22,
        clip: false,
        silent: true,
        itemStyle: { color: arrowColor, opacity: 1 },
        z: 4,
      },
      {
        type: "custom",
        name: "Balanced mix",
        coordinateSystem: "none",
        data: balancedPaintOrder.map((i) => [balancedShares[i]]),
        renderItem: renderBalancedSlice,
        silent: true,
        z: 9,
      },
      {
        type: "custom",
        name: "Residential only",
        coordinateSystem: "none",
        data: residentialOnly.map((v) => [v]),
        renderItem: singleUsePie(280, 1052, 137, 65, 31, "#fcbe00", hGrad([[0, "#cc9e00"], [0.72, "#5f4b00"], [1, "#5f4b00"]])),
        silent: true,
        z: 9,
      },
      {
        type: "custom",
        name: "Retail only",
        coordinateSystem: "none",
        data: retailOnly.map((v) => [v]),
        renderItem: singleUsePie(950, 1050, 137, 65, 31, "#ff0000", hGrad([[0, "#d40000"], [0.8, "#5a0000"], [1, "#5a0000"]])),
        silent: true,
        z: 9,
      },
    ],
    graphic: { elements: graphic },
  };
}

export default function App() {
  const ref = useRef<HTMLDivElement>(null);
  useEffect(() => {
    if (!ref.current) return;
    const chart = echarts.init(ref.current, undefined, { renderer: "svg" });
    chart.setOption(buildOption() as any);
    return () => chart.dispose();
  }, []);
  return <div ref={ref} style={{ position: "fixed", left: 0, top: 0, width: 1196, height: 1148 }} />;
}
